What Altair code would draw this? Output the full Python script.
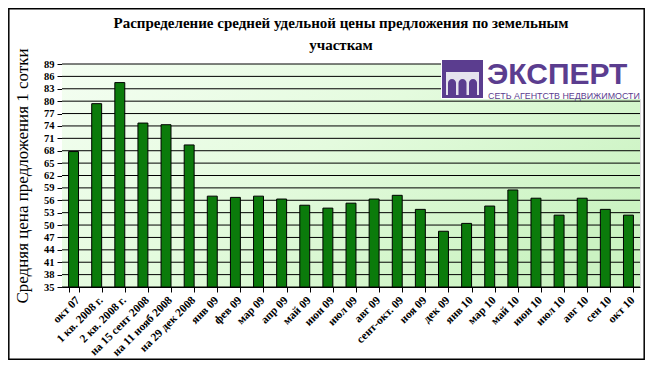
import altair as alt
import pandas as pd

categories = ["окт 07", "1 кв. 2008 г.", "2 кв. 2008 г.", "на 15 сент 2008", "на 11 нояб 2008",
              "на 29 дек 2008", "янв 09", "фев 09", "мар 09", "апр 09", "май 09", "июн 09",
              "июл 09", "авг 09", "сент-окт. 09", "ноя 09", "дек 09", "янв 10", "мар 10",
              "май 10", "июн 10", "июл 10", "авг 10", "сен 10", "окт 10"]
values = [67.8, 79.4, 84.5, 74.7, 74.3, 69.4, 57.0, 56.7, 57.0, 56.3, 54.8, 54.1,
          55.3, 56.3, 57.2, 53.8, 48.5, 50.4, 54.6, 58.5, 56.5, 52.4, 56.5, 53.8, 52.4]
y_ticks = list(range(35, 90, 3))

title_line1 = "Распределение средней удельной цены предложения по земельным"
title_line2 = "участкам"
y_title = "Средняя цена предложения 1 сотки"

W, H = 578, 223
SERIF = "Liberation Serif"
PURPLE = "#5b3d8f"

df = pd.DataFrame({"cat": categories, "val": values})
grid_df = pd.DataFrame({"v": y_ticks})
one = pd.DataFrame({"a": [0]})

yscale = alt.Scale(domain=[35, 89], nice=False, zero=False)
xscale = alt.Scale(paddingInner=0.57, paddingOuter=0.285)

y_axis = alt.Axis(values=y_ticks, title=y_title, titleFont=SERIF, titleFontSize=17,
                  titleFontWeight="normal", titleColor="black", titlePadding=12,
                  labelFont=SERIF, labelFontWeight="bold", labelFontSize=10.5,
                  labelColor="black", tickColor="black", tickSize=5,
                  domainColor="black", grid=False, labelPadding=3,
                  labelOverlap=False)

bg = alt.Chart(one).mark_rect(
    color=alt.LinearGradient(
        gradient="linear", x1=0, y1=0, x2=1, y2=0.6,
        stops=[alt.GradientStop(color="#f4fef2", offset=0),
               alt.GradientStop(color="#e4fbde", offset=0.5),
               alt.GradientStop(color="#cbf3c2", offset=1)]
    )
).encode(x=alt.value(0), x2=alt.value(W), y=alt.value(0), y2=alt.value(H))

grid = alt.Chart(grid_df).mark_rule(color="black", strokeWidth=1).encode(
    y=alt.Y("v:Q", scale=yscale, axis=y_axis)
)

bars = alt.Chart(df).mark_bar(color="#0b7b0b", stroke="black", strokeWidth=1).encode(
    x=alt.X("cat:N", sort=None, scale=xscale,
            axis=alt.Axis(title=None, labelAngle=-45, labelFont=SERIF, labelFontWeight="bold",
                          labelFontSize=11.5, labelColor="black", tickBand="extent",
                          tickColor="black", tickSize=5, domainColor="black",
                          labelPadding=2, labelOverlap=False)),
    y=alt.Y("val:Q", scale=yscale, axis=y_axis),
    y2=alt.datum(35),
)

def text_at(txt, x, y, **kw):
    return alt.Chart(one).mark_text(text=txt, **kw).encode(x=alt.value(x), y=alt.value(y))

title1 = text_at(title_line1, 279, -36, font=SERIF, fontSize=15, fontWeight="bold",
                 color="black", align="center", baseline="alphabetic")
title2 = text_at(title_line2, 279, -14, font=SERIF, fontSize=15, fontWeight="bold",
                 color="black", align="center", baseline="alphabetic")

# logo
logo_bg = alt.Chart(one).mark_rect(color="white").encode(
    x=alt.value(379), x2=alt.value(W + 1), y=alt.value(-5), y2=alt.value(35))
logo_sq = alt.Chart(one).mark_rect(color=PURPLE).encode(
    x=alt.value(380), x2=alt.value(421), y=alt.value(-4), y2=alt.value(34))
logo_inner = alt.Chart(one).mark_rect(color="#e6e3ee").encode(
    x=alt.value(384), x2=alt.value(417), y=alt.value(8), y2=alt.value(31))
arch_df = pd.DataFrame({"x1": [386, 396.5, 407], "x2": [394, 404.5, 415]})
arches = alt.Chart(arch_df).mark_rect(color=PURPLE, cornerRadiusTopLeft=4,
                                      cornerRadiusTopRight=4).encode(
    x=alt.X("x1:Q", scale=None), x2="x2:Q", y=alt.value(15), y2=alt.value(31))
logo_txt = text_at("ЭКСПЕРТ", 425, 20, font="Liberation Sans", fontWeight="bold",
                   fontSize=30, color=PURPLE, align="left", baseline="alphabetic")
logo_sub = text_at("СЕТЬ АГЕНТСТВ НЕДВИЖИМОСТИ", 426, 34.5, font="Liberation Sans",
                   fontSize=8.9, color=PURPLE, align="left", baseline="alphabetic")

frame = alt.Chart(one).mark_rect(fill=None, stroke="black", strokeWidth=1.5).encode(
    x=alt.value(-53.2), x2=alt.value(W + 4.2), y=alt.value(-55.2), y2=alt.value(H + 72.2))

chart = alt.layer(bg, grid, bars, title1, title2, logo_bg, logo_sq, logo_inner, arches,
                  logo_txt, logo_sub, frame).properties(
    width=W, height=H,
    autosize=alt.AutoSizeParams(type="none"),
    padding={"left": 54, "top": 56, "right": 5, "bottom": 73},
).configure_view(stroke="#808080", strokeWidth=1).configure(background="white")

chart.save("out.html", embed_options={"renderer": "svg", "actions": False})
